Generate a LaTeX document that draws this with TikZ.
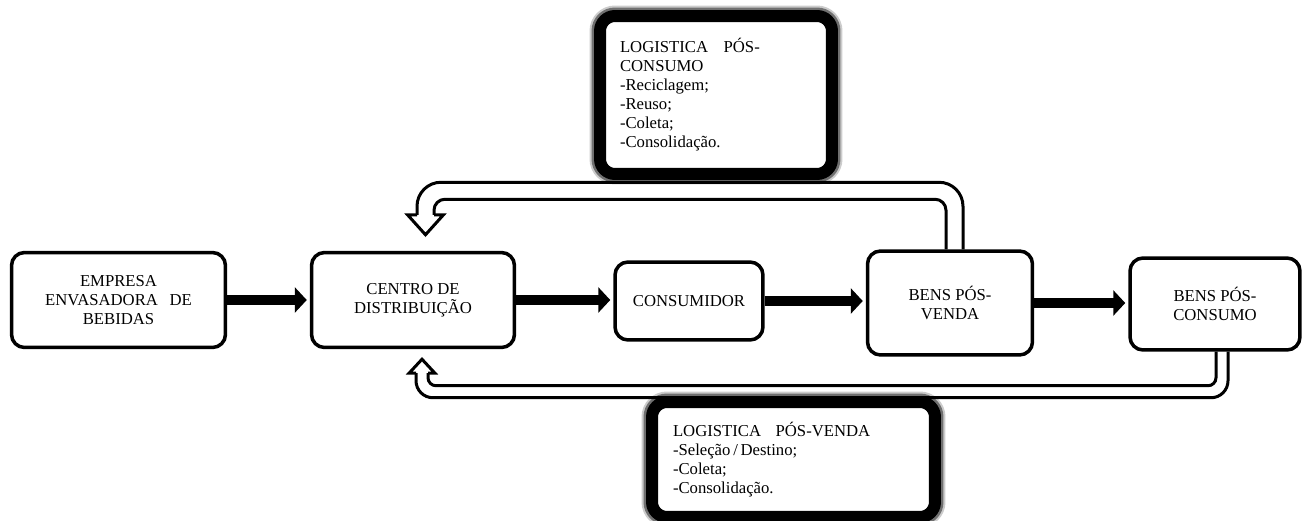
\documentclass[tikz,border=0pt]{standalone}
\usepackage{fontspec}
\setmainfont{Liberation Serif}
\usetikzlibrary{arrows.meta,calc}

\newcommand{\boxfont}{\fontsize{9.5}{10.8}\selectfont}

\begin{document}
\begin{tikzpicture}[x=0.02cm,y=-0.02cm,
  stage/.style={draw,line width=0.07cm,rounded corners=0.26cm,align=center,font=\boxfont,inner sep=0pt},
  flow/.style={line width=0.21cm,-{Triangle[length=0.24cm,width=0.5cm]},shorten >=0.06cm},
  hollow/.style={line width=0.06cm,line join=miter},
  callout/.style={fill=white,draw=black,line width=0.24cm,rounded corners=0.3cm,align=left,font=\boxfont,
    preaction={draw=black,opacity=0.2,line width=0.42cm},
    preaction={draw=black,opacity=0.45,line width=0.34cm}}]

\useasboundingbox (0,0) rectangle (1306,521);

\node[stage,minimum width=4.28cm,minimum height=1.9cm] (emp) at (118.5,300) {EMPRESA\\ENVASADORA\hspace{0.15cm} DE\\BEBIDAS};
\node[stage,minimum width=4.06cm,minimum height=1.9cm] (cen) at (413,300) {CENTRO DE\\DISTRIBUIÇÃO};
\node[stage,minimum width=2.96cm,minimum height=1.56cm] (con) at (689,301) {CONSUMIDOR};
\node[stage,minimum width=3.3cm,minimum height=2.08cm] (bpv) at (950,303) {BENS PÓS-\\VENDA};
\node[stage,minimum width=3.4cm,minimum height=1.84cm] (bpc) at (1215,304) {BENS PÓS-\\CONSUMO};

\draw[flow] (emp.east) -- (emp.east -| cen.west);
\draw[flow] (cen.east) -- (cen.east -| con.west);
\draw[flow] (con.east) -- (con.east -| bpv.west);
\draw[flow] (bpv.east) -- (bpv.east -| bpc.west);

% notes
\node[callout,minimum width=4.64cm,minimum height=3.16cm,text width=3.84cm,inner xsep=0.4cm] (pcon) at (716,95)
  {LOGISTICA\hspace{0.2cm} PÓS-\\CONSUMO\\-Reciclagem;\\-Reuso;\\-Coleta;\\-Consolidação.\par\vspace{0.2cm}};
\node[callout,minimum width=5.66cm,minimum height=2.3cm,text width=4.82cm,inner xsep=0.42cm] (pven) at (793.5,459.5)
  {LOGISTICA\hspace{0.18cm} PÓS-VENDA\\-Seleção\,/\,Destino;\\-Coleta;\\-Consolidação.\par\vspace{0.2cm}};

% return above
\coordinate (ra) at ($(bpv.north)+(4.5,0)$);
\coordinate (la) at ($(cen.north)+(12.5,-16)$);
\draw[hollow,rounded corners=0.48cm] ($(ra)+(8.5,0)$) -- ($(ra)+(8.5,-67)$) -| ($(la)+(-8.5,-20)$);
\draw[hollow,rounded corners=0.22cm] ($(ra)+(-8.5,0)$) -- ($(ra)+(-8.5,-50)$) -| ($(la)+(8.5,-20)$);
\draw[hollow] ($(la)+(-8.5,-20)$) -- ($(la)+(-18,-20)$) -- (la) -- ($(la)+(18,-20)$) -- ($(la)+(8.5,-20)$);

% return below
\coordinate (rb) at ($(bpc.south)+(7,0)$);
\coordinate (lb) at ($(cen.south)+(9,10)$);
\draw[hollow,rounded corners=0.34cm] ($(rb)+(6,0)$) -- ($(rb)+(6,46)$) -| ($(lb)+(-6,14)$);
\draw[hollow,rounded corners=0.16cm] ($(rb)+(-6,0)$) -- ($(rb)+(-6,34)$) -| ($(lb)+(6,14)$);
\draw[hollow] ($(lb)+(-6,14)$) -- ($(lb)+(-13,14)$) -- (lb) -- ($(lb)+(13,14)$) -- ($(lb)+(6,14)$);

\end{tikzpicture}
\end{document}
